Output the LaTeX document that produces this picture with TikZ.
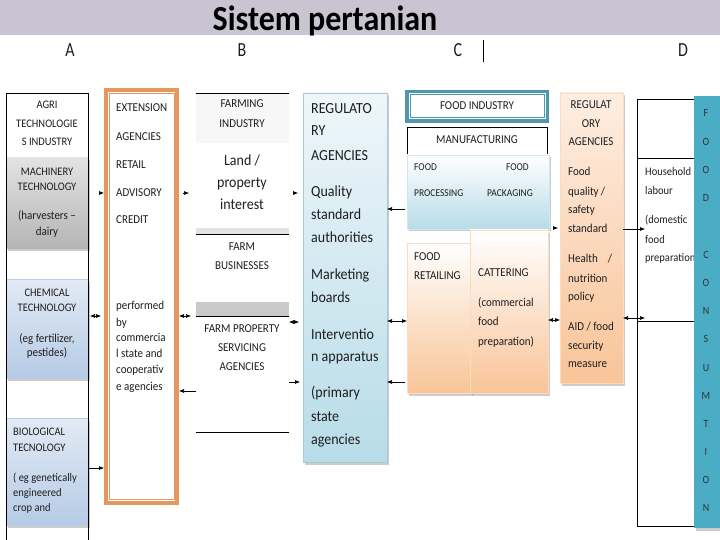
\documentclass[tikz,border=0pt]{standalone}
\usepackage{fontspec}
\usepackage{graphicx}
\setmainfont{Carlito}
\usetikzlibrary{arrows.meta,shadows}
\definecolor{hdr}{RGB}{201,196,210}
\definecolor{orB}{RGB}{229,151,93}
\definecolor{tealC}{RGB}{75,172,198}
\definecolor{tealD}{RGB}{79,151,172}
\definecolor{lbTop}{RGB}{238,246,250}
\definecolor{lbBot}{RGB}{183,220,232}
\definecolor{pcTop}{RGB}{253,238,226}
\definecolor{pcBot}{RGB}{249,196,152}
\definecolor{chTop}{RGB}{226,234,245}
\definecolor{chBot}{RGB}{182,203,229}
\definecolor{txt}{RGB}{30,30,30}
\newcommand\myfs[2]{\fontsize{#1}{#2}\selectfont}
\newcommand\sx[1]{\scalebox{1}[1.1]{#1}}
\begin{document}
\begin{tikzpicture}[x=1pt,y=-1pt,
  box/.style={anchor=north west, inner sep=0pt, outer sep=0pt},
  shad/.style={drop shadow={shadow xshift=1.5pt,shadow yshift=-2.5pt,opacity=.4}},
  lbl/.style={inner sep=0pt, text=txt, text depth=0pt},
  f95/.style={lbl, font=\myfs{9.5}{9.5}, text height=6.7pt},
  f10/.style={lbl, font=\myfs{10}{10}, text height=7.1pt},
  fa/.style={lbl, font=\myfs{10.5}{10.5}, text height=7.4pt},
  f11/.style={lbl, font=\myfs{11}{11}, text height=7.8pt},
  f14/.style={lbl, font=\myfs{14}{14}, text height=9.9pt},
  arr/.style={-{Latex[length=5pt,width=4pt]}, line width=.6pt},
  darr/.style={{Latex[length=5pt,width=4pt]}-{Latex[length=5pt,width=4pt]}, line width=.6pt},
]
\useasboundingbox (0,0) rectangle (720,540);
% header
\fill[hdr] (0,0) rectangle (720,35);
\node[inner sep=0pt, font=\bfseries\myfs{32}{32}, anchor=base] (title) at (325,31) {\sx{Sistem pertanian}};
\node[lbl, font=\myfs{16}{16}, text height=12.9pt] (colA) at (70,50) {\scalebox{1}[1.25]{A}};
\node[lbl, font=\myfs{16}{16}, text height=12.9pt] (colB) at (242,50) {\scalebox{1}[1.25]{B}};
\node[lbl, font=\myfs{16}{16}, text height=12.9pt] (colC) at (458,50) {\scalebox{1}[1.25]{C}};
\node[lbl, font=\myfs{16}{16}, text height=12.9pt] (colD) at (683,50) {\scalebox{1}[1.25]{D}};
\draw[line width=.8pt] (483,40) -- (483,62);

% column A
\node[box, draw=black, line width=.6pt, fill=white, minimum width=82, minimum height=65] (agri) at (6,93) {};
\node[box, shad, top color=gray!22, middle color=gray!5, bottom color=gray!58, minimum width=82, minimum height=90] (mach) at (6,158) {};
\node[box, shad, top color=chTop, bottom color=chBot, draw=chBot, minimum width=82, minimum height=99] (chem) at (6,279) {};
\node[box, shad, top color=chTop, bottom color=chBot, draw=chBot, minimum width=82, minimum height=107] (bio) at (6,418) {};
\draw[line width=.7pt] (6,93) -- (6,540) (88,93) -- (88,540);
\foreach \t/\yy [count=\i] in {AGRI/105, TECHNOLOGIE/124, S INDUSTRY/142}
  \node[fa] (agri\i) at (47,\yy) {\sx{\t}};
\foreach \t/\yy [count=\i] in {MACHINERY/172, TECHNOLOGY/187}
  \node[fa] (mach\i) at (47,\yy) {\sx{\t}};
\foreach \t/\yy [count=\i] in {{(harvesters –}/216, dairy/232}
  \node[f11] (machb\i) at (47,\yy) {\sx{\t}};
\foreach \t/\yy [count=\i] in {CHEMICAL/293, TECHNOLOGY/308}
  \node[fa] (chem\i) at (47,\yy) {\sx{\t}};
\foreach \t/\yy [count=\i] in {{(eg fertilizer,}/339, {pestides)}/353}
  \node[f11] (chemb\i) at (47,\yy) {\sx{\t}};
\foreach \t/\yy [count=\i] in {BIOLOGICAL/432, TECNOLOGY/448}
  \node[fa, anchor=west] (bio\i) at (13,\yy) {\sx{\t}};
\foreach \t/\yy [count=\i] in {{( eg genetically}/478, engineered/493, {crop and}/508}
  \node[fa, anchor=west] (biob\i) at (13,\yy) {\sx{\t}};

% extension agencies
\node[box, fill=white, minimum width=75, minimum height=417] (ext) at (104,88) {};
\draw[orB, line width=4pt] ([shift={(2,2)}]ext.north west) rectangle ([shift={(-2,-2)}]ext.south east);
\draw[orB, line width=.9pt] ([shift={(5.5,5.5)}]ext.north west) rectangle ([shift={(-5,-5.5)}]ext.south east);
\foreach \t/\yy [count=\i] in {EXTENSION/108, AGENCIES/137, RETAIL/165, ADVISORY/193, CREDIT/220}
  \node[f11, anchor=west] (ext\i) at (116,\yy) {\sx{\t}};
\foreach \t/\yy [count=\i] in {performed/306, by/323, commercia/338, {l state and}/354, cooperativ/370, {e agencies}/387}
  \node[f11, anchor=west] (extb\i) at (116,\yy) {\sx{\t}};

% farming industry
\node[box, minimum width=93, minimum height=339] (farm) at (196,93) {};
\fill[gray!6] (196,93) rectangle (289,143);
\fill[gray!22] (196,228) rectangle (289,234);
\fill[gray!42] (196,302) rectangle (289,316);
\draw[line width=.6pt] (196,93) -- (289,93) (196,234) -- (289,234) (196,316) -- (289,316) (196,432) -- (289,432);
\foreach \t/\yy [count=\i] in {FARMING/104, INDUSTRY/124}
  \node[f11] (farm\i) at (242,\yy) {\sx{\t}};
\foreach \t/\yy [count=\i] in {{Land /}/161, property/183, interest/205}
  \node[f14] (land\i) at (242,\yy) {\sx{\t}};
\foreach \t/\yy [count=\i] in {FARM/247, BUSINESSES/266}
  \node[f11] (fb\i) at (242,\yy) {\sx{\t}};
\foreach \t/\yy [count=\i] in {FARM PROPERTY/329, SERVICING/348, AGENCIES/367}
  \node[f11] (fp\i) at (242,\yy) {\sx{\t}};

% regulatory agencies (B)
\node[box, shad, top color=lbTop, bottom color=lbBot, draw=lbBot!80!gray, minimum width=84, minimum height=369] (regb) at (303,93) {};
\foreach \t/\yy [count=\i] in {REGULATO/109, RY/131, AGENCIES/156, Quality/192, standard/215, authorities/238, Marketing/275, boards/298, Interventio/335, {n apparatus}/357, {(primary}/393, state/417, agencies/440}
  \node[f14, anchor=west] (regb\i) at (311,\yy) {\sx{\t}};

% food industry
\node[box, fill=white, minimum width=144, minimum height=33] (fi) at (405,90) {};
\draw[tealD, line width=3.5pt] ([shift={(1.75,1.75)}]fi.north west) rectangle ([shift={(-1.75,-1.75)}]fi.south east);
\draw[tealD, line width=1pt] ([shift={(5,5)}]fi.north west) rectangle ([shift={(-5,-5)}]fi.south east);
\node[f11] (fiT) at (477,106) {\sx{FOOD INDUSTRY}};
\node[box, draw=black, line width=.6pt, fill=white, minimum width=140, minimum height=28] (mf) at (407,127) {};
\node[f11] (mfT) at (477,140) {\sx{MANUFACTURING}};
\node[box, shad, top color=white, bottom color=lbBot, draw=lbBot!70, minimum width=142, minimum height=74] (proc) at (407,155) {};
\node[f95, anchor=west] (procA) at (414,167) {\sx{FOOD}};
\node[f95, anchor=east] (procB) at (529,167) {\sx{FOOD}};
\node[f95, anchor=west] (procC) at (414,193) {\sx{PROCESSING}};
\node[f95, anchor=east] (procD) at (533,193) {\sx{PACKAGING}};
\node[box, shad, top color=white, bottom color=pcBot, draw=pcBot!60, minimum width=64, minimum height=150] (ret) at (407,243) {};
\node[box, shad, top color=white, bottom color=pcBot, draw=pcBot!60, minimum width=78, minimum height=163] (cat) at (470,230) {};
\foreach \t/\yy [count=\i] in {FOOD/257, RETAILING/276}
  \node[f11, anchor=west] (ret\i) at (414,\yy) {\sx{\t}};
\node[f11, anchor=west] (catT) at (478,273) {\sx{CATTERING}};
\foreach \t/\yy [count=\i] in {{(commercial}/303, food/322, {preparation)}/342}
  \node[f11, anchor=west] (cat\i) at (478,\yy) {\sx{\t}};

% regulatory agencies (D)
\node[box, shad, top color=pcTop, bottom color=pcBot, draw=pcBot!60, minimum width=63, minimum height=290] (regd) at (560,93) {};
\foreach \t/\yy [count=\i] in {REGULAT/105, ORY/124, AGENCIES/142}
  \node[f11] (regdh\i) at (591,\yy) {\sx{\t}};
\foreach \t/\yy [count=\i] in {Food/172, quality/192, safety/210, standard/229, Health/259, nutrition/279, policy/297, {AID / food}/327, security/346, measure/364}
  \node[f11, anchor=west] (regd\i) at (568,\yy) {\sx{\t}};
\node[f11] (regdS1) at (603,192) {\sx{/}};
\node[f11] (regdS2) at (610,259) {\sx{/}};

% household
\node[box, draw=black, line width=.6pt, minimum width=57, minimum height=59] (hh1) at (637,99) {};
\node[box, draw=black, line width=.6pt, minimum width=57, minimum height=163] (hh2) at (637,158) {};
\node[box, draw=black, line width=.6pt, minimum width=57, minimum height=205] (hh3) at (637,321) {};
\foreach \t/\yy [count=\i] in {Household/172, labour/191, {(domestic}/220, food/240, preparation/258}
  \node[fa, anchor=west] (hh\i) at (645,\yy) {\sx{\t}};

% consumption bar
\node[box, shad, fill=tealC, minimum width=27, minimum height=432] (cons) at (694,96) {};
\foreach \t/\yy [count=\i] in {F/113, O/142, O/170, D/198, C/255, O/283, N/311, S/339, U/368, M/396, T/424, I/452, O/480, N/508}
  \node[f10, text=black!80] (cons\i) at (706,\yy) {\sx{\t}};

% connectors
\foreach \yy in {193,209,228,229,316,318,320,321,322,382,391,468}
  \coordinate (y\yy) at (0,\yy);
\draw[arr, shorten <=11pt] (mach.east |- y193) -- (ext.west |- y193);
\draw[arr, shorten <=4pt, shorten >=7pt] (ext.east |- y193) -- (farm.west |- y193);
\draw[darr, shorten <=2pt, shorten >=3pt] (chem.east |- y316) -- (ext.west |- y316);
\draw[darr, shorten >=5pt] (ext.east |- y316) -- (farm.west |- y316);
\draw[arr] (bio.east |- y468) -- (ext.west |- y468);
\draw[arr] (farm.west |- y391) -- (ext.east |- y391);
\draw[arr, shorten <=4pt, shorten >=5pt] (farm.east |- y193) -- (regb.west |- y193);
\draw[darr, shorten >=4pt] (farm.east |- y322) -- (regb.west |- y322);
\draw[arr, shorten >=3pt] (farm.east |- y382) -- (regb.west |- y382);
\draw[arr, shorten <=2pt] (proc.west |- y209) -- (regb.east |- y209);
\draw[darr] (regb.east |- y321) -- (ret.west |- y321);
\draw[arr, shorten <=2pt] (ret.west |- y382) -- (regb.east |- y382);
\draw[arr, shorten <=4pt, shorten >=2pt] (proc.east |- y228) -- (regd.west |- y228);
\draw[darr] (cat.east |- y320) -- (regd.west |- y320);
\draw[arr] (regd.east |- y229) -- (hh2.west |- y229);
\draw[darr] (regd.east |- y318) -- (hh2.west |- y318);
\end{tikzpicture}
\end{document}
